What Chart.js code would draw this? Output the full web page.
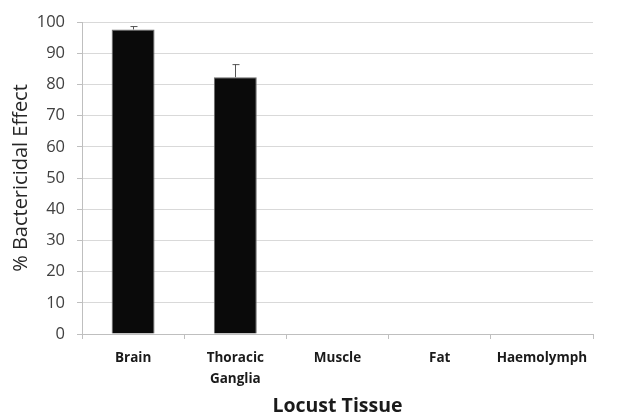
<!DOCTYPE html>
<html>
<head>
<meta charset="utf-8">
<script src="https://cdn.jsdelivr.net/npm/chart.js@4"></script>
<style>
  html, body { margin: 0; padding: 0; background: #fff; }
  #wrap { width: 619px; height: 416px; }
</style>
</head>
<body>
<div id="wrap"><canvas id="tissueChart" width="619" height="416"></canvas></div>
<script>
// bactericidal effect per locust tissue
const tissues = ['Brain', ['Thoracic', 'Ganglia'], 'Muscle', 'Fat', 'Haemolymph'];
const effect = [97.6, 82.3, 0, 0, 0];
const effectErr = [1.1, 4.2, 0, 0, 0];
const yTicks = [0, 10, 20, 30, 40, 50, 60, 70, 80, 90, 100];

const FONT = "'Open Sans', 'Liberation Sans', sans-serif";

// upward error bars with a small cap
const errorBars = {
    id: 'errorBars',
    afterDatasetsDraw(chart) {
        const ctx = chart.ctx;
        const meta = chart.getDatasetMeta(0);
        const y = chart.scales.y;
        ctx.save();
        ctx.strokeStyle = '#555';
        ctx.lineWidth = 1;
        meta.data.forEach((bar, i) => {
            if (!effectErr[i]) return;
            const top = y.getPixelForValue(effect[i] + effectErr[i]);
            const base = y.getPixelForValue(effect[i]);
            const x = Math.round(bar.x) + 0.5;
            ctx.beginPath();
            ctx.moveTo(x, base);
            ctx.lineTo(x, top);
            ctx.moveTo(x - 3, top + 0.5);
            ctx.lineTo(x + 4, top + 0.5);
            ctx.stroke();
        });
        ctx.restore();
    }
};

new Chart(document.getElementById('tissueChart').getContext('2d'), {
    type: 'bar',
    data: {
        labels: tissues,
        datasets: [{
            data: effect,
            backgroundColor: '#0a0a0a',
            borderColor: '#6b6b6b',
            borderWidth: 1,
            barPercentage: 0.84,
            categoryPercentage: 0.5
        }]
    },
    options: {
        responsive: false,
        animation: false,
        layout: { padding: { top: 22, right: 26, left: 9, bottom: 0 } },
        plugins: {
            legend: { display: false },
            tooltip: { enabled: false }
        },
        scales: {
            x: {
                afterFit(axis) { axis.height = 82; },
                grid: {
                    offset: true,
                    drawOnChartArea: false,
                    tickLength: 5,
                    color: '#bfbfbf'
                },
                border: { color: '#bfbfbf' },
                ticks: {
                    color: '#1a1a1a',
                    font: { family: FONT, size: 13.5, weight: 'bold', lineHeight: 1.6 },
                    maxRotation: 0,
                    padding: 8
                },
                title: {
                    display: true,
                    text: 'Locust Tissue',
                    color: '#1a1a1a',
                    font: { family: FONT, size: 19.5, weight: 'bold', lineHeight: 1.0 },
                    padding: { top: 0, bottom: 0 }
                }
            },
            y: {
                min: 0,
                max: 100,
                afterFit(axis) { axis.width = 73; },
                afterBuildTicks(axis) {
                    axis.ticks = yTicks.map(v => ({ value: v }));
                },
                grid: {
                    color: '#d9d9d9',
                    tickLength: 5,
                    tickColor: '#bfbfbf'
                },
                border: { color: '#bfbfbf' },
                ticks: {
                    color: '#404040',
                    font: { family: FONT, size: 16.5 },
                    padding: 12
                },
                title: {
                    display: true,
                    text: '% Bactericidal Effect',
                    color: '#262626',
                    font: { family: FONT, size: 20 },
                    padding: { top: 0, bottom: 5 }
                }
            }
        }
    },
    plugins: [errorBars]
});
</script>
</body>
</html>
